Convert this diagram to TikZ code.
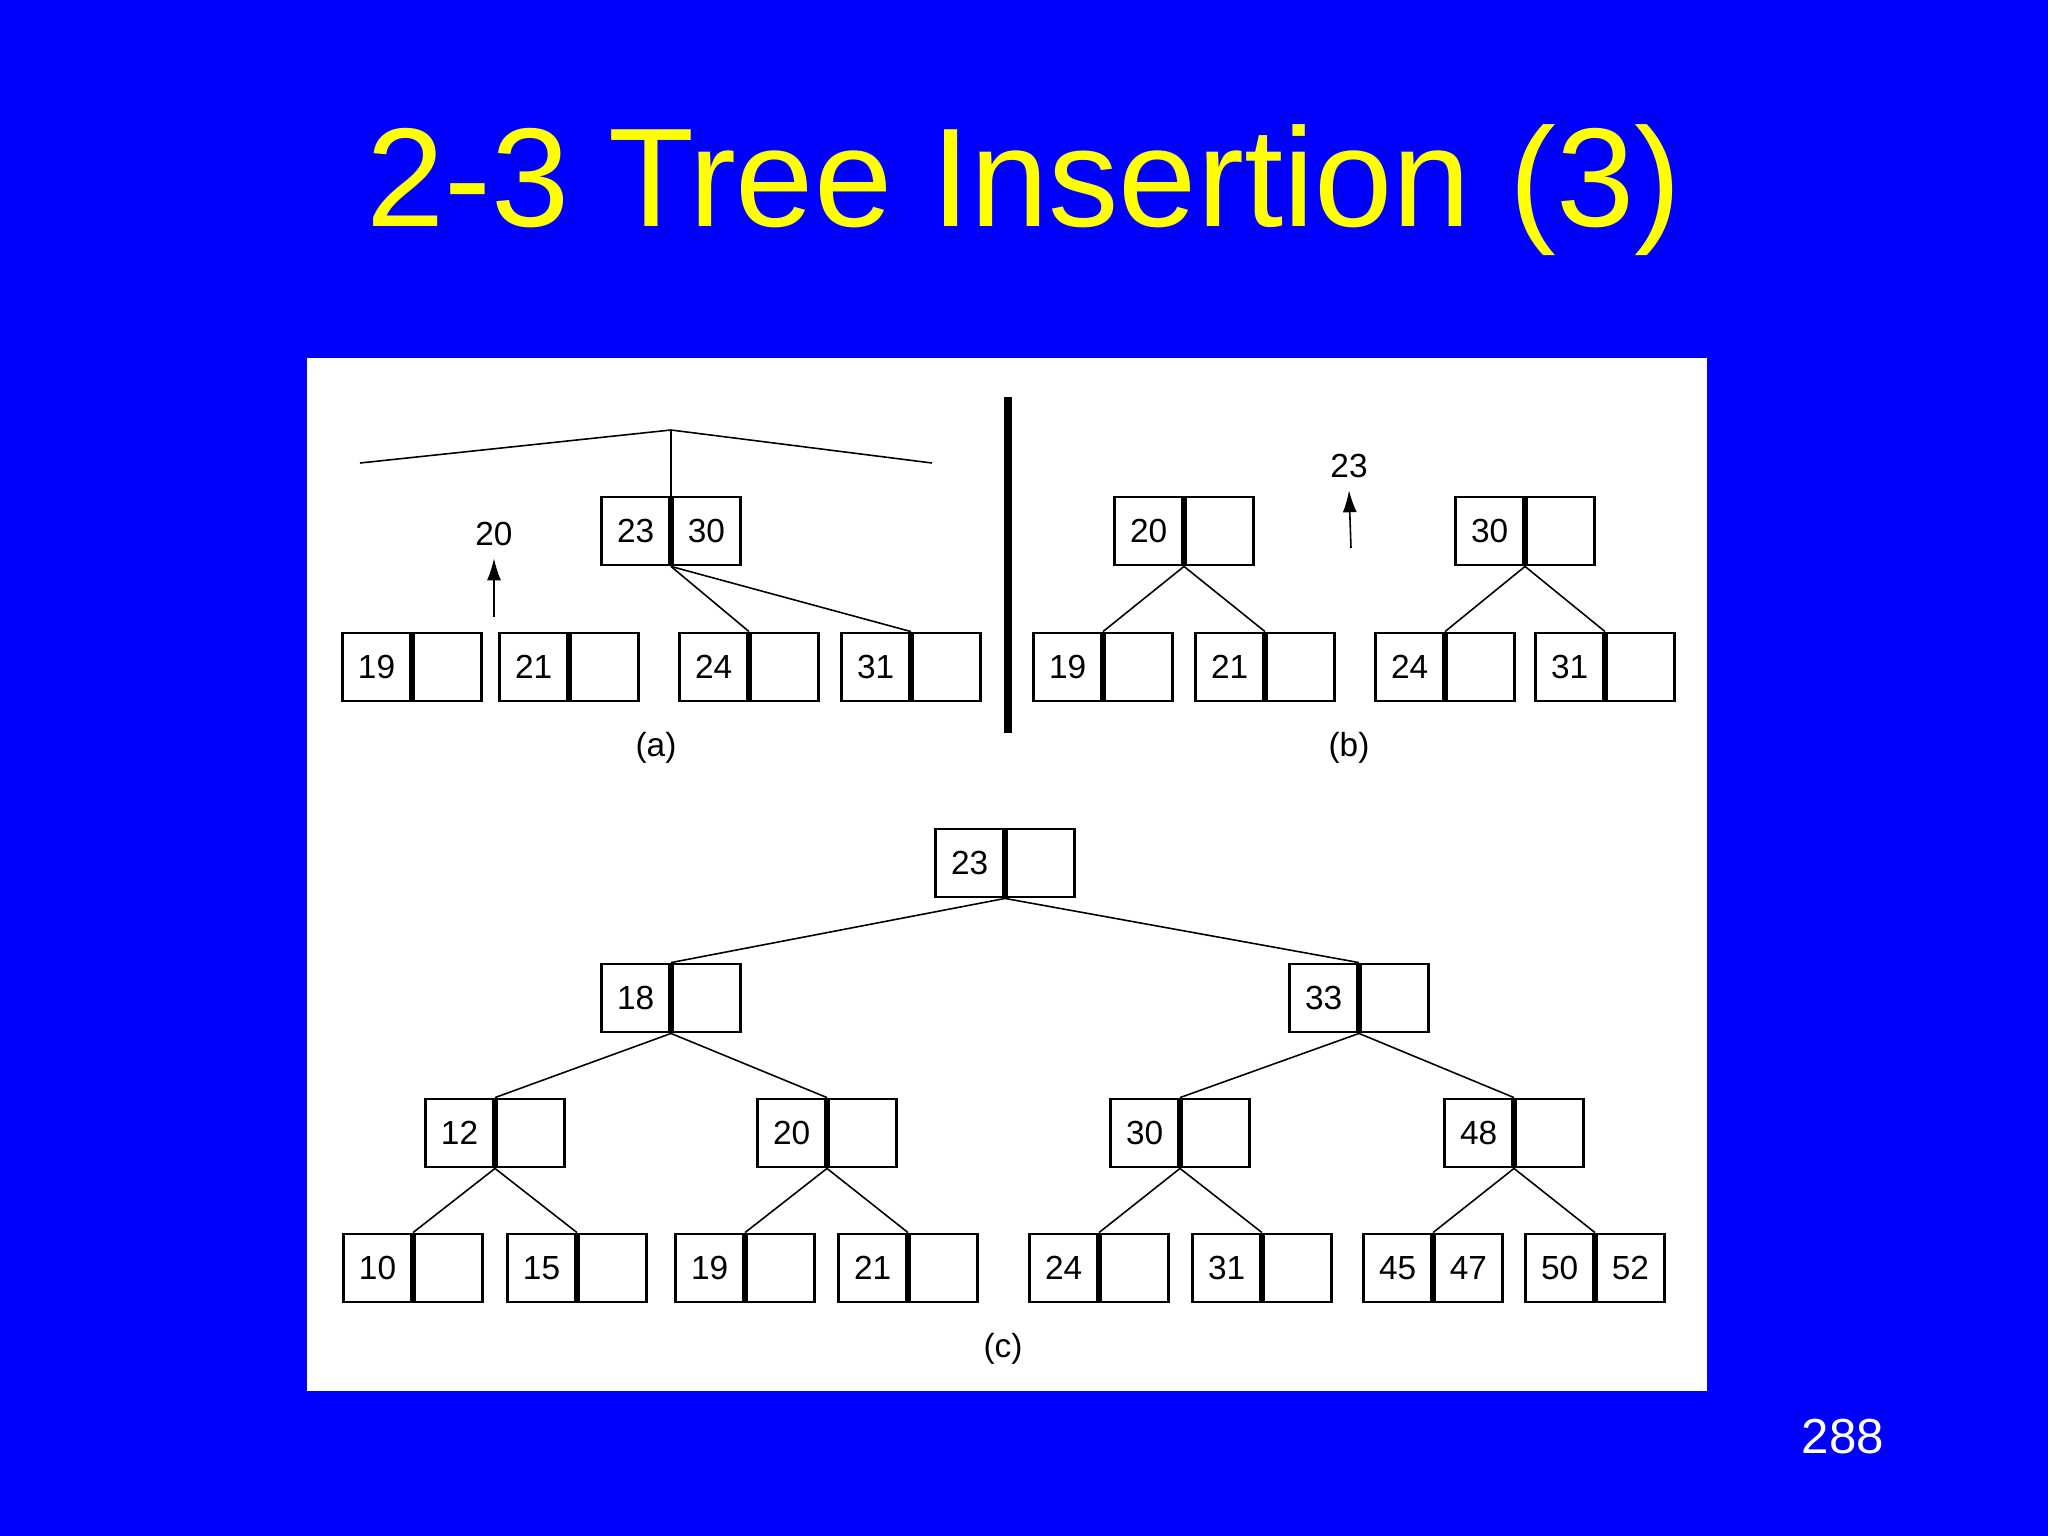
\documentclass[tikz,border=0pt]{standalone}
\usepackage{fontspec}
\setmainfont{Liberation Sans}
\usetikzlibrary{arrows.meta}
\definecolor{slideblue}{RGB}{0,0,255}
\definecolor{titleyellow}{RGB}{255,255,0}
\tikzset{
  cell/.style={draw, line width=0.8pt, minimum size=0.68cm, inner sep=0pt,
    font=\fontsize{9.5}{10}\selectfont},
  link/.style={line width=0.45pt},
  up/.style={line width=0.45pt, -{Latex[length=2.2mm,width=1.4mm]}},
}
% two-slot node: name, divider x, centre y, left key, right key
\newcommand\keypair[5]{%
  \node[cell, anchor=east] (#1) at (#2,#3) {#4};
  \node[cell, anchor=west] (#1r) at (#2,#3) {#5};}
\begin{document}
\begin{tikzpicture}[x=0.01cm, y=-0.01cm]

  % background and panel
  \fill[slideblue] (0,0) rectangle (2048,1536);
  \useasboundingbox (0,0) rectangle (2048,1536);
  \fill[white] (307,358) rectangle (1707,1391);
  \node[text=titleyellow, font=\fontsize{40}{44}\selectfont] (title) at (1024,190) {2-3 Tree Insertion (3)};
  \node[text=white, font=\rmfamily\fontsize{14}{16}\selectfont] (page) at (1843,1437) {288};

  % (a)
  \keypair{a2330}{671}{531}{23}{30}
  \keypair{a19}{412}{667}{19}{}
  \keypair{a21}{569}{667}{21}{}
  \keypair{a24}{749}{667}{24}{}
  \keypair{a31}{911}{667}{31}{}
  \coordinate (apex) at (671,430);
  \coordinate (aleft) at (360,463);
  \coordinate (aright) at (932,463);
  \draw[link] (aleft) -- (apex) -- (aright);
  \draw[link] (apex) -- (a2330.north east);
  \draw[link] (a2330.south east) -- (a24.north east);
  \draw[link] (a2330.south east) -- (a31.north east);
  \node[font=\fontsize{9.5}{10}\selectfont] (k20) at (494,534) {20};
  \coordinate (k20foot) at (494,617);
  \draw[up] (k20foot) -- (k20.south);
  \node[font=\fontsize{9.5}{10}\selectfont] (capa) at (656,748) {(a)};

  % separator
  \coordinate (septop) at (1008,397);
  \coordinate (sepbot) at (1008,733);
  \draw[line width=2pt] (septop) -- (sepbot);

  % (b)
  \keypair{b20}{1184}{531}{20}{}
  \keypair{b30}{1525}{531}{30}{}
  \keypair{b19}{1103}{667}{19}{}
  \keypair{b21}{1265}{667}{21}{}
  \keypair{b24}{1445}{667}{24}{}
  \keypair{b31}{1605}{667}{31}{}
  \foreach \p/\c in {b20/b19, b20/b21, b30/b24, b30/b31}
    \draw[link] (\p.south east) -- (\c.north east);
  \node[font=\fontsize{9.5}{10}\selectfont] (k23) at (1349,466) {23};
  \coordinate (k23foot) at (1351,548);
  \draw[up] (k23foot) -- (k23.south);
  \node[font=\fontsize{9.5}{10}\selectfont] (capb) at (1349,748) {(b)};

  % (c)
  \keypair{c23}{1005}{863}{23}{}
  \keypair{c18}{671}{998}{18}{}
  \keypair{c33}{1359}{998}{33}{}
  \keypair{c12}{495}{1133}{12}{}
  \keypair{c20}{827}{1133}{20}{}
  \keypair{c30}{1180}{1133}{30}{}
  \keypair{c48}{1514}{1133}{48}{}
  \keypair{c10}{413}{1268}{10}{}
  \keypair{c15}{577}{1268}{15}{}
  \keypair{c19}{745}{1268}{19}{}
  \keypair{c21}{908}{1268}{21}{}
  \keypair{c24}{1099}{1268}{24}{}
  \keypair{c31}{1262}{1268}{31}{}
  \keypair{c45}{1433}{1268}{45}{47}
  \keypair{c50}{1595}{1268}{50}{52}
  \foreach \p/\c in {c23/c18, c23/c33, c18/c12, c18/c20, c33/c30, c33/c48,
      c12/c10, c12/c15, c20/c19, c20/c21, c30/c24, c30/c31, c48/c45, c48/c50}
    \draw[link] (\p.south east) -- (\c.north east);
  \node[font=\fontsize{9.5}{10}\selectfont] (capc) at (1003,1349) {(c)};

\end{tikzpicture}
\end{document}
